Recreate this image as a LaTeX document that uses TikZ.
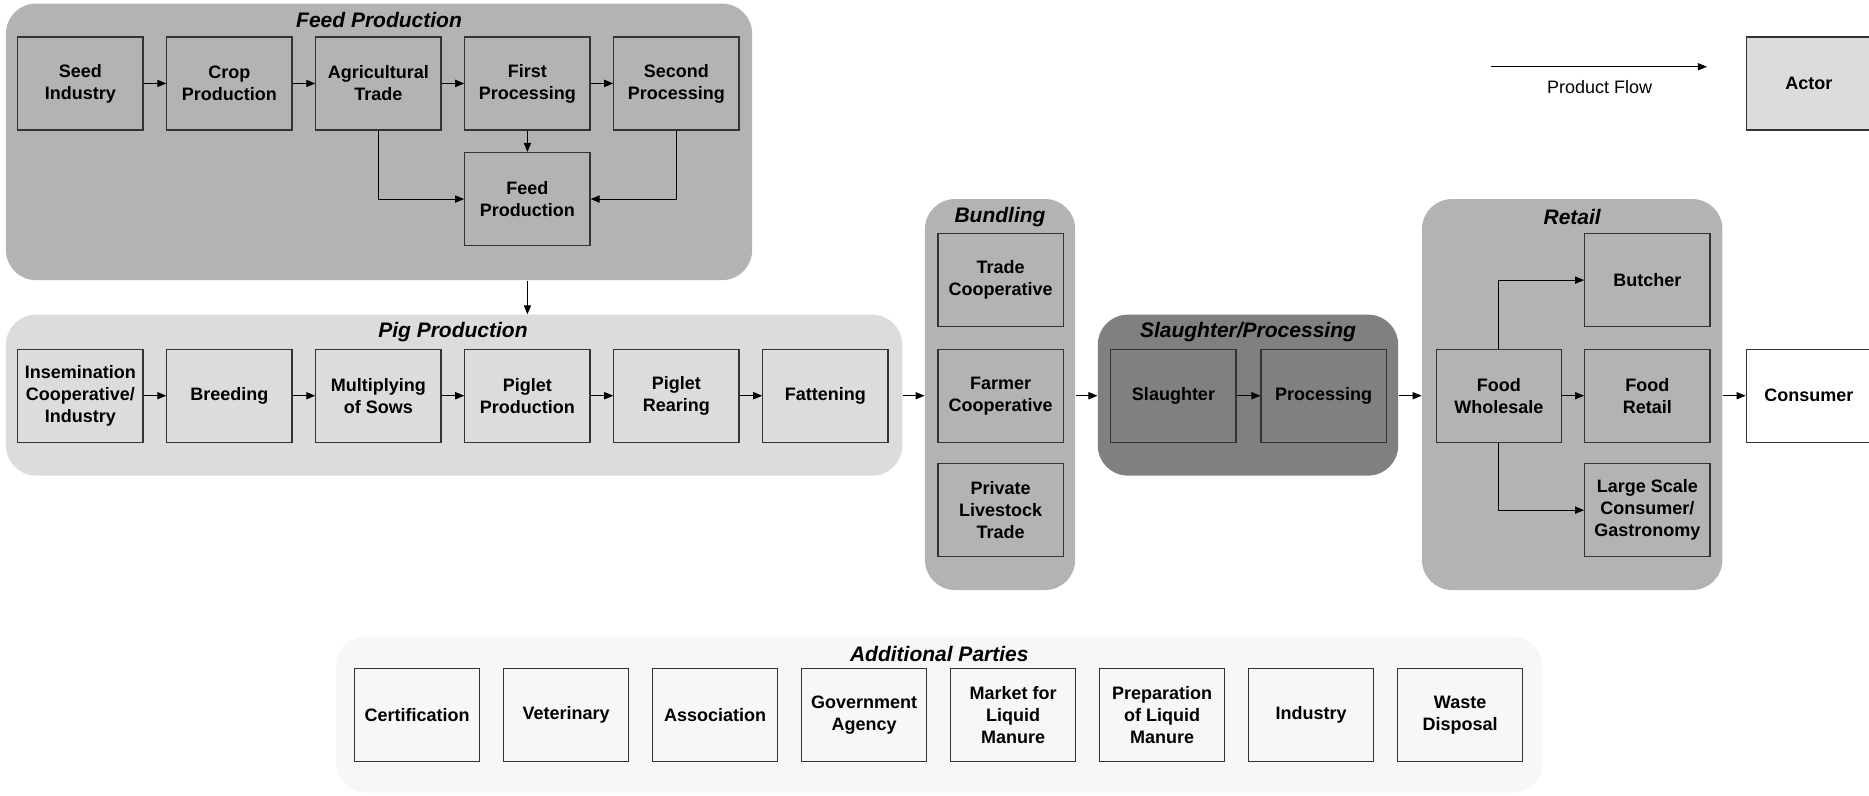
\documentclass[tikz,border=0pt]{standalone}
\usepackage{fontspec}
\setmainfont{Liberation Sans}
\usetikzlibrary{arrows.meta,fit}

\definecolor{feedgray}{HTML}{B3B3B3}
\definecolor{piggray}{HTML}{DCDCDC}
\definecolor{slgray}{HTML}{808080}
\definecolor{addgray}{HTML}{F7F7F7}
\definecolor{edge}{HTML}{333333}

\tikzset{
  actor/.style={draw=edge, line width=0.6pt, minimum width=62.6pt, minimum height=46.5pt,
    inner sep=0pt, align=center, font=\bfseries\fontsize{9}{11}\selectfont},
  group/.style={rounded corners=15pt, inner sep=0pt},
  grouptitle/.style={font=\bfseries\itshape\fontsize{10.5}{12}\selectfont, inner sep=0pt},
  flow/.style={draw=black, line width=0.5pt, -{Triangle[length=4.5pt,width=3.6pt]}},
}

\begin{document}
\begin{tikzpicture}[x=0.596pt, y=-0.596pt]
  \clip (0,0) rectangle (1568,667);
  \fill[white] (0,0) rectangle (1568,667);

  % ---- group backgrounds ----
  \node[group, fill=feedgray, fit={(5,3) (631,235)}] (feedgrp) {};
  \node[group, fill=piggray, fit={(5,264) (757,399)}] (piggrp) {};
  \node[group, fill=feedgray, fit={(776,167) (902,495)}] (bundgrp) {};
  \node[group, fill=slgray, fit={(921,264) (1173,399)}] (slgrp) {};
  \node[group, fill=feedgray, fit={(1193,167) (1445,495)}] (retgrp) {};
  \node[group, fill=addgray, fit={(282,534) (1294,665)}] (addgrp) {};

  \node[grouptitle] (tfeed) at (318,17) {Feed Production};
  \node[grouptitle] (tpig) at (380,279) {Pig Production};
  \node[grouptitle] (tbund) at (839,182) {Bundling};
  \node[grouptitle] (tsl) at (1047,279) {Slaughter/Processing};
  \node[grouptitle] (tret) at (1319,182) {Retail};
  \node[grouptitle] (tadd) at (788,549) {Additional Parties};

  % ---- feed production ----
  \begin{scope}[every node/.append style={actor, fill=feedgray}]
    \node (seed) at (67.5,70) {Seed\\Industry};
    \node (crop) at (192.5,70) {Crop\\Production};
    \node (agri) at (317.5,70) {Agricultural\\Trade};
    \node (first) at (442.5,70) {First\\Processing};
    \node (second) at (567.5,70) {Second\\Processing};
    \node (feed) at (442.5,167) {Feed\\Production};
  \end{scope}

  % ---- pig production ----
  \begin{scope}[every node/.append style={actor, fill=piggray}]
    \node (insem) at (67.5,332) {Insemination\\Cooperative/\\Industry};
    \node (breed) at (192.5,332) {Breeding};
    \node (multi) at (317.5,332) {Multiplying\\of Sows};
    \node (pprod) at (442.5,332) {Piglet\\Production};
    \node (prear) at (567.5,332) {Piglet\\Rearing};
    \node (fatt) at (692.5,332) {Fattening};
  \end{scope}

  % ---- bundling ----
  \begin{scope}[every node/.append style={actor, fill=feedgray}]
    \node (tradecoop) at (839.5,235) {Trade\\Cooperative};
    \node (farmcoop) at (839.5,332) {Farmer\\Cooperative};
    \node (private) at (839.5,428) {Private\\Livestock\\Trade};
  \end{scope}

  % ---- slaughter / processing ----
  \begin{scope}[every node/.append style={actor, fill=slgray}]
    \node (slaughter) at (984.5,332) {Slaughter};
    \node (processing) at (1110.5,332) {Processing};
  \end{scope}

  % ---- retail ----
  \begin{scope}[every node/.append style={actor, fill=feedgray}]
    \node (wholesale) at (1257.5,332) {Food\\Wholesale};
    \node (butcher) at (1382,235) {Butcher};
    \node (foodretail) at (1382,332) {Food\\Retail};
    \node (large) at (1382,428) {Large Scale\\Consumer/\\Gastronomy};
  \end{scope}

  \node[actor, fill=white] (consumer) at (1517.5,332) {Consumer};

  % ---- legend ----
  \node[actor, fill=piggray] (actorkey) at (1517.5,70) {Actor};
  \coordinate (flowA) at (1251,56);
  \coordinate (flowB) at (1432,56);
  \draw[flow] (flowA) -- (flowB);
  \node[font=\fontsize{9}{11}\selectfont, inner sep=0pt] (flowlbl) at (1342,73) {Product Flow};

  % ---- additional parties ----
  \begin{scope}[every node/.append style={actor, fill=addgray}]
    \node (cert) at (350,600) {Certification};
    \node (vet) at (475,600) {Veterinary};
    \node (assoc) at (600,600) {Association};
    \node (gov) at (725,600) {Government\\Agency};
    \node (market) at (850,600) {Market for\\Liquid\\Manure};
    \node (prep) at (975,600) {Preparation\\of Liquid\\Manure};
    \node (ind) at (1100,600) {Industry};
    \node (waste) at (1225,600) {Waste\\Disposal};
  \end{scope}

  % ---- flows ----
  \draw[flow] (seed) -- (crop);
  \draw[flow] (crop) -- (agri);
  \draw[flow] (agri) -- (first);
  \draw[flow] (first) -- (second);
  \draw[flow] (first) -- (feed);
  \draw[flow] (agri.south) |- (feed.west);
  \draw[flow] (second.south) |- (feed.east);

  \draw[flow] (feed.south |- feedgrp.south) -- (feed.south |- piggrp.north);

  \draw[flow] (insem) -- (breed);
  \draw[flow] (breed) -- (multi);
  \draw[flow] (multi) -- (pprod);
  \draw[flow] (pprod) -- (prear);
  \draw[flow] (prear) -- (fatt);

  \draw[flow] (piggrp.east |- fatt.east) -- (bundgrp.west |- fatt.east);
  \draw[flow] (bundgrp.east |- slaughter.west) -- (slgrp.west |- slaughter.west);
  \draw[flow] (slaughter) -- (processing);
  \draw[flow] (slgrp.east |- wholesale.west) -- (retgrp.west |- wholesale.west);

  \draw[flow] (wholesale.north) |- (butcher.west);
  \draw[flow] (wholesale) -- (foodretail);
  \draw[flow] (wholesale.south) |- (large.west);

  \draw[flow] (retgrp.east |- consumer.west) -- (consumer.west);
\end{tikzpicture}
\end{document}
